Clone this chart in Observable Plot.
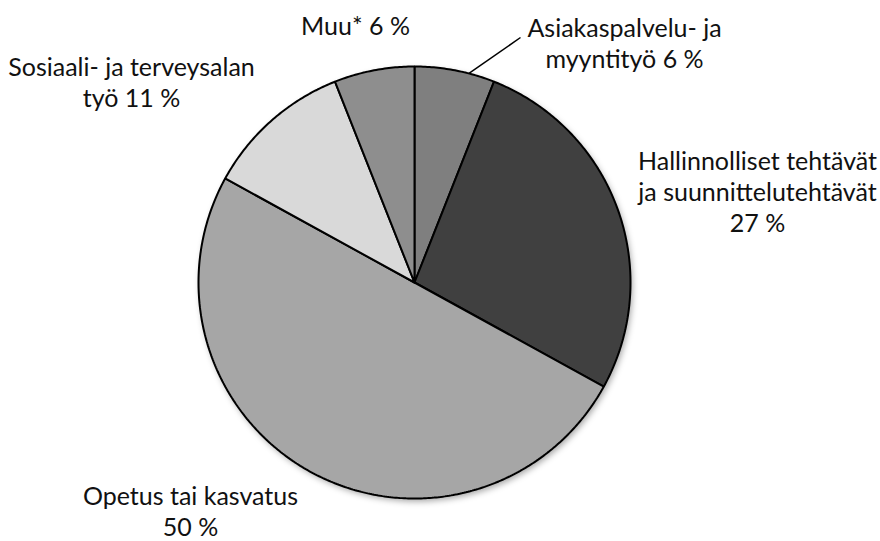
<!DOCTYPE html>
<html>
<head>
<meta charset="utf-8">
<script src="https://cdn.jsdelivr.net/npm/d3@7"></script>
<script src="https://cdn.jsdelivr.net/npm/@observablehq/plot@0.6"></script>
<style>
  html, body { margin: 0; padding: 0; background: #fff; }
  #chart { width: 880px; height: 541px; }
</style>
</head>
<body>
<div id="chart"></div>
<script>
// ---- Data ----
const categories = [
  "Asiakaspalvelu- ja myyntityö",
  "Hallinnolliset tehtävät ja suunnittelutehtävät",
  "Opetus tai kasvatus",
  "Sosiaali- ja terveysalan työ",
  "Muu*"
];
const shares = [6, 27, 50, 11, 6];
const labels = [
  "Asiakaspalvelu- ja\nmyyntityö 6 %",
  "Hallinnolliset tehtävät\nja suunnittelutehtävät\n27 %",
  "Opetus tai kasvatus\n50 %",
  "Sosiaali- ja terveysalan\ntyö 11 %",
  "Muu* 6 %"
];
const colors = ["#7f7f7f", "#404040", "#a6a6a6", "#d9d9d9", "#8e8e8e"];

// ---- Layout (pixel space) ----
const W = 880, H = 541;
const cx = 414, cy = 282, R = 216;
// label block centers: [dx, dy] from pie center
const labelOffsets = [[210, -239.5], [343, -91], [-224, 228], [-283, -200.5], [-59, -257]];
const leader = {angle: 14.6 * Math.PI / 180, end: [106, -245]};

const arcs = d3.pie().sort(null).value(d => d)(shares);

// polygon points for each slice, derived from the pie angles
const pts = [];
arcs.forEach((a, i) => {
  const n = Math.max(2, Math.ceil((a.endAngle - a.startAngle) / 0.01));
  pts.push({i, x: cx, y: cy});
  for (let k = 0; k <= n; k++) {
    const t = a.startAngle + (a.endAngle - a.startAngle) * k / n;
    pts.push({i, x: cx + R * Math.sin(t), y: cy - R * Math.cos(t)});
  }
  pts.push({i, x: cx, y: cy});
});

const labelData = labels.map((l, i) => ({
  text: l, x: cx + labelOffsets[i][0], y: cy + labelOffsets[i][1]
}));

const la = leader.angle;
const leaderData = [{
  x1: cx + R * Math.sin(la), y1: cy - R * Math.cos(la),
  x2: cx + leader.end[0], y2: cy + leader.end[1]
}];

const plot = Plot.plot({
  width: W, height: H,
  margin: 0,
  style: {background: "#fff", fontFamily: "Lato, 'Open Sans', sans-serif"},
  x: {type: "linear", domain: [0, W], range: [0, W], axis: null},
  y: {type: "linear", domain: [0, H], range: [0, H], axis: null},
  marks: [
    Plot.dot([{x: cx + 2, y: cy + 3}], {x: "x", y: "y", r: R, fill: "#000", fillOpacity: 0.35, stroke: "none"}),
    Plot.line(pts, {
      x: "x", y: "y", z: "i",
      fill: d => colors[d.i],
      stroke: "#000", strokeWidth: 2, strokeLinejoin: "miter", curve: "linear"
    }),
    Plot.link(leaderData, {x1: "x1", y1: "y1", x2: "x2", y2: "y2", stroke: "#000", strokeWidth: 1.5}),
    Plot.text(labelData, {
      x: "x", y: "y", text: "text",
      fontSize: 25, lineHeight: 1.24, fill: "#111", textAnchor: "middle"
    })
  ]
});

// soften the pie shadow
const shadow = plot.querySelector("circle");
if (shadow) shadow.parentNode.setAttribute("style", "filter: blur(3px)");

document.getElementById("chart").appendChild(plot);
</script>
</body>
</html>
